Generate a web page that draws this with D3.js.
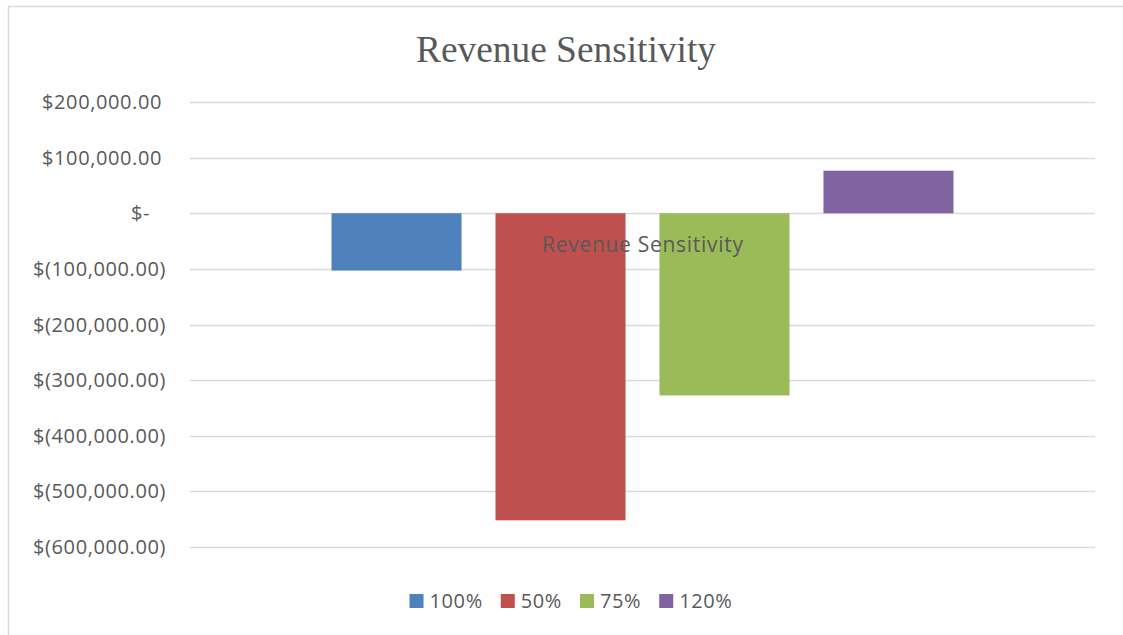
<!DOCTYPE html>
<html>
<head>
<meta charset="utf-8">
<script src="https://cdn.jsdelivr.net/npm/d3@7"></script>
<style>
  html, body { margin: 0; padding: 0; background: #fff; }
  svg { display: block; }
</style>
</head>
<body>
<svg id="chart" width="1123" height="635"></svg>
<script>
// Chart data
const chartTitle = "Revenue Sensitivity";
const categories = ["Revenue Sensitivity"];
const seriesNames = ["100%", "50%", "75%", "120%"];
const seriesValues = [-103000, -552000, -327500, 76500];
const seriesColors = ["#4f81bd", "#c0504d", "#9bbb59", "#8064a2"];
const tickValues = [200000, 100000, 0, -100000, -200000, -300000, -400000, -500000, -600000];

const svg = d3.select("#chart");
const W = 1123, H = 635;
const plot = { left: 190, right: 1095, top: 102, bottom: 547 };
const textColor = "#595959";
const labelFont = "'Open Sans', 'Liberation Sans', sans-serif";
const labelSize = 20;
const labelSpacing = 0.6;

// Outer chart border
svg.append("path")
  .attr("d", `M8.5,${H} V6.5 H${W}`)
  .attr("fill", "none")
  .attr("stroke", "#d9d9d9")
  .attr("stroke-width", 1.5);

// Title
svg.append("text")
  .attr("x", 566).attr("y", 62)
  .attr("text-anchor", "middle")
  .attr("font-family", "'Liberation Serif', 'Times New Roman', serif")
  .attr("font-size", 38)
  .attr("fill", textColor)
  .attr("textLength", 300)
  .attr("lengthAdjust", "spacingAndGlyphs")
  .text(chartTitle);

// Scales
const y = d3.scaleLinear().domain([-600000, 200000]).range([plot.bottom, plot.top]);
const x0 = d3.scaleBand().domain(categories).range([plot.left, plot.right])
  .paddingInner(0).paddingOuter(0.2275);
const x1 = d3.scaleBand().domain(seriesNames).range([0, x0.bandwidth()])
  .paddingInner(0.207).paddingOuter(0);

// Gridlines
svg.append("g").selectAll("line").data(tickValues).join("line")
  .attr("x1", plot.left).attr("x2", plot.right)
  .attr("y1", d => Math.round(y(d)) + 0.5).attr("y2", d => Math.round(y(d)) + 0.5)
  .attr("stroke", "#d9d9d9").attr("stroke-width", 1.5);

// Accounting-style tick labels
function fmt(v) {
  if (v === 0) return "$-";
  const s = d3.format(",.2f")(Math.abs(v));
  return v < 0 ? `$(${s})` : `$${s}`;
}
svg.append("g").selectAll("text").data(tickValues).join("text")
  .attr("x", d => d === 0 ? 150 : (d < 0 ? 166 : 162))
  .attr("y", d => y(d))
  .attr("dy", "0.35em")
  .attr("text-anchor", "end")
  .attr("font-family", labelFont)
  .attr("font-size", labelSize)
  .attr("letter-spacing", labelSpacing)
  .attr("fill", textColor)
  .text(fmt);

// Bars
const group = svg.append("g").selectAll("g").data(categories).join("g")
  .attr("transform", d => `translate(${x0(d)},0)`);
group.selectAll("rect")
  .data(() => seriesNames.map((s, i) => ({ name: s, value: seriesValues[i], color: seriesColors[i] })))
  .join("rect")
  .attr("x", d => x1(d.name))
  .attr("width", x1.bandwidth())
  .attr("y", d => y(Math.max(0, d.value)))
  .attr("height", d => Math.abs(y(d.value) - y(0)))
  .attr("fill", d => d.color);

// Category label next to the zero line
svg.append("g").selectAll("text").data(categories).join("text")
  .attr("x", d => x0(d) + x0.bandwidth() / 2)
  .attr("y", y(0) + 31)
  .attr("dy", "0.35em")
  .attr("text-anchor", "middle")
  .attr("font-family", labelFont)
  .attr("font-size", 21)
  .attr("fill", textColor)
  .attr("textLength", 201)
  .attr("lengthAdjust", "spacing")
  .text(d => d);

// Legend
const legend = svg.append("g");
const items = legend.selectAll("g").data(seriesNames).join("g");
items.append("rect")
  .attr("width", 14).attr("height", 14)
  .attr("y", -7)
  .attr("fill", (d, i) => seriesColors[i]);
items.append("text")
  .attr("x", 20).attr("dy", "0.35em")
  .attr("font-family", labelFont)
  .attr("font-size", labelSize)
  .attr("letter-spacing", labelSpacing)
  .attr("fill", textColor)
  .text(d => d);
let cursor = 0;
const widths = [];
items.each(function () {
  const w = 20 + this.querySelector("text").getComputedTextLength();
  widths.push(w);
});
const gap = 18;
const total = d3.sum(widths) + gap * (widths.length - 1);
const startX = 571 - total / 2;
items.attr("transform", (d, i) => {
  const tx = startX + cursor;
  cursor += widths[i] + gap;
  return `translate(${tx},601)`;
});
</script>
</body>
</html>
